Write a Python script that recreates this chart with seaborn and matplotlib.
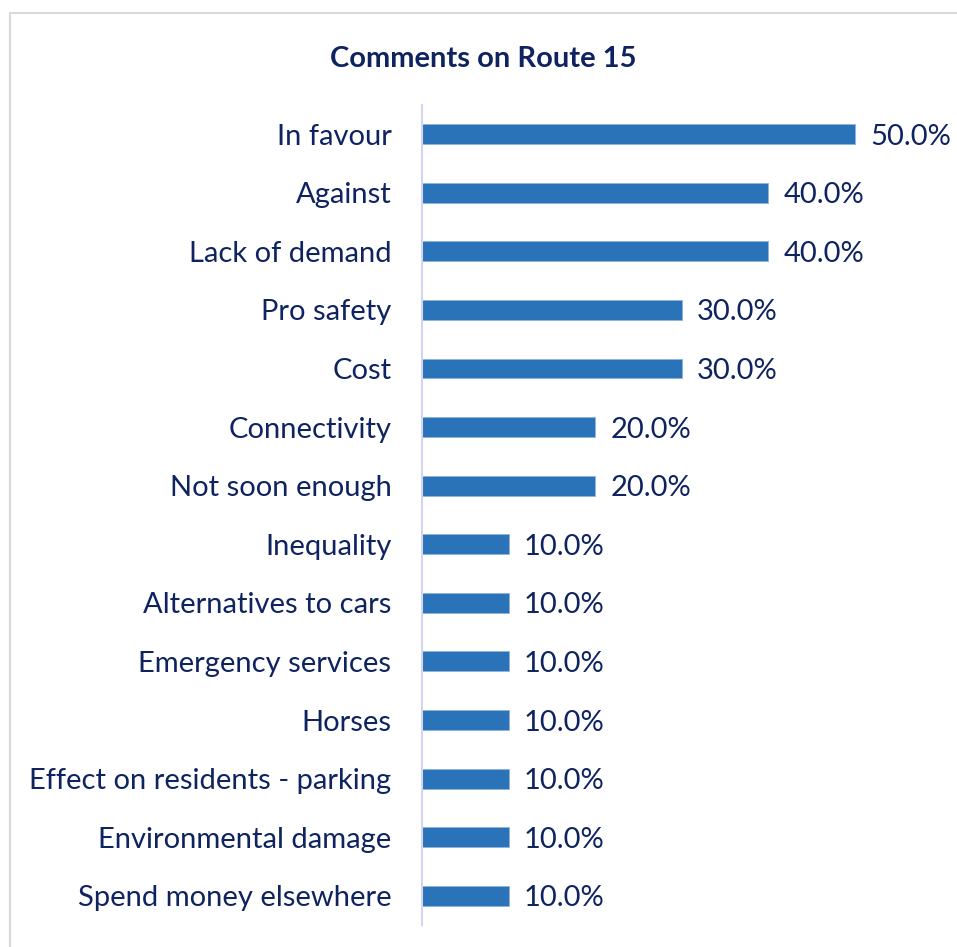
import matplotlib
matplotlib.use("Agg")
import matplotlib.pyplot as plt
import seaborn as sns
import pandas as pd
from matplotlib.patches import Rectangle

# Comment categories and share of responses (%)
categories = [
    "In favour",
    "Against",
    "Lack of demand",
    "Pro safety",
    "Cost",
    "Connectivity",
    "Not soon enough",
    "Inequality",
    "Alternatives to cars",
    "Emergency services",
    "Horses",
    "Effect on residents - parking",
    "Environmental damage",
    "Spend money elsewhere",
]
shares = [50.0, 40.0, 40.0, 30.0, 30.0, 20.0, 20.0,
          10.0, 10.0, 10.0, 10.0, 10.0, 10.0, 10.0]
title = "Comments on Route 15"

df = pd.DataFrame({"category": categories, "share": shares})

sns.set_theme(style="white")
plt.rcParams["font.family"] = ["Lato", "DejaVu Sans"]

navy = "#0F2361"
bar_blue = "#2A73B8"

fig = plt.figure(figsize=(9.57, 9.47), dpi=100)
ax = fig.add_axes([0.441, 0.0232, 0.543, 0.866])

sns.barplot(data=df, x="share", y="category", orient="h", color=bar_blue,
            width=0.34, edgecolor="#8FB4DC", linewidth=0.6, saturation=1,
            ax=ax)

ax.set_xlim(0, 60)
ax.set_ylim(len(categories) - 0.5, -0.5)
ax.set_xlabel("")
ax.set_ylabel("")
ax.set_xticks([])
for side in ["top", "right", "bottom"]:
    ax.spines[side].set_visible(False)
ax.spines["left"].set_color("#D4D4EE")
ax.spines["left"].set_linewidth(1.5)
ax.tick_params(axis="y", length=0, pad=22, labelsize=21, labelcolor=navy)

for i, v in enumerate(shares):
    ax.annotate(f"{v:.1f}%", xy=(v, i), xytext=(15, 0),
                textcoords="offset pixels",
                va="center_baseline", ha="left", fontsize=21, color=navy)

fig.text(0.505, 0.938, title, ha="center", va="center",
         fontsize=21, fontweight="bold", color=navy)

# Light frame around the chart area
fig.patches.append(Rectangle((10 / 957, -0.05), 1.2, 1 - 13 / 947 + 0.05,
                             transform=fig.transFigure, fill=False,
                             edgecolor="#D9D9D9", linewidth=1.5))

fig.savefig("out.png", dpi=100)
